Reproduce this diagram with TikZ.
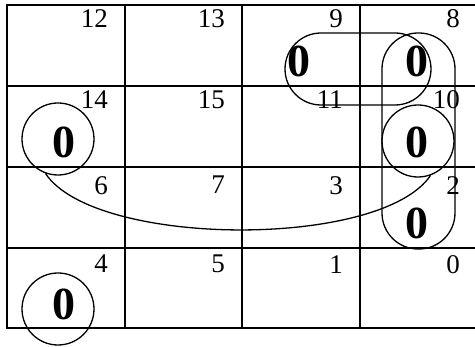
\documentclass[tikz,border=0pt]{standalone}
\usepackage{fontspec}
\setmainfont{Liberation Serif}

\begin{document}
\begin{tikzpicture}[x=1pt, y=-1pt,
  gridline/.style={line width=2pt},
  cnum/.style={anchor=north east, inner sep=0pt,
               font=\fontsize{27}{27}\selectfont},
  zero/.style={inner sep=0pt, font=\fontsize{46}{46}\selectfont\bfseries},
  ring/.style={draw, circle, line width=1.3pt, minimum size=72pt, inner sep=0pt},
  pill/.style={draw, rounded corners=36pt, line width=1.3pt, inner sep=0pt},
  wrap/.style={line width=1.3pt}
]
\useasboundingbox (0,0) rectangle (475,347);

% grid (right edge falls outside the page)
\draw[gridline] (482,5) -- (7,5) -- (7,328) -- (482,328);
\foreach \x in {125,242,360}{
  \draw[gridline] (\x,5) -- (\x,328);
}
\foreach \y in {86,167,248}{
  \draw[gridline] (7,\y) -- (482,\y);
}

% cell numbers
\foreach \y/\a/\b/\c/\d in {9/12/13/9/8, 90/14/15/11/10, 176/6/7/3/2, 255/4/5/1/0}{
  \node[cnum] (n\a) at (108,\y) {\a};
  \node[cnum] (n\b) at (225,\y) {\b};
  \node[cnum] (n\c) at (343,\y) {\c};
  \node[cnum] (n\d) at (460,\y) {\d};
}

% zeros
\node[zero] (z9)  at (299,61)  {0};
\node[zero] (z8)  at (417,61)  {0};
\node[zero] (z14) at (64,142)  {0};
\node[zero] (z10) at (417,142) {0};
\node[zero] (z2)  at (417,223) {0};
\node[zero] (z4)  at (64,304)  {0};

% groups
\node[ring] (ring14) at (58,139) {};
\node[ring] (ring10) at (418,141) {};
\node[ring] (ring4)  at (58,309) {};
\node[pill, minimum width=146pt, minimum height=72pt] (pill98) at (358,69) {};
\node[pill, minimum width=73pt, minimum height=216pt] (pill82) at (418.5,141) {};

% wrap-around between 14 and 2
\draw[wrap] (ring14.-110) .. controls +(49,74) and +(-50,74) .. (ring10.-70);

\end{tikzpicture}
\end{document}
